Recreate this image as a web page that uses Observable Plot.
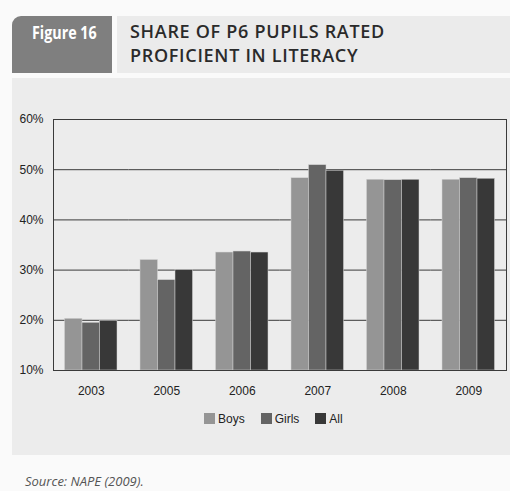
<!DOCTYPE html>
<html>
<head>
<meta charset="utf-8">
<script src="https://cdn.jsdelivr.net/npm/d3@7"></script>
<script src="https://cdn.jsdelivr.net/npm/@observablehq/plot@0.6"></script>
<style>
  html, body { margin: 0; padding: 0; }
  body { width: 510px; height: 491px; position: relative; overflow: hidden; background: #fafafa; font-family: "Liberation Sans", Arial, sans-serif; }
  #tab { position: absolute; left: 12px; top: 16px; width: 100px; height: 57px; background: #7f7f7f; border-top-left-radius: 9px; }
  #tabtext { position: absolute; left: 32px; top: 22px; color: #fff; font-family: "Open Sans", sans-serif; font-weight: bold; font-size: 17px; line-height: 22px; white-space: nowrap; transform: scaleX(0.84); transform-origin: 0 0; }
  #titlebox { position: absolute; left: 117px; top: 16px; width: 393px; height: 57px; background: #ebebeb; }
  #title { position: absolute; left: 130px; top: 19px; color: #2a2a2a; font-family: "Open Sans", sans-serif; font-weight: 600; font-size: 18px; letter-spacing: 0.7px; line-height: 24px; white-space: nowrap; }
  #panel { position: absolute; left: 12px; top: 78px; width: 498px; height: 377px; background: #ececec; }
  #chart { position: absolute; left: 12px; top: 78px; }
  #legend { position: absolute; left: 204px; top: 402px; }
  #source { position: absolute; left: 25px; top: 473px; color: #555; font-family: "Open Sans", sans-serif; font-style: italic; font-size: 13px; line-height: 16px; white-space: nowrap; }
  .lg-swatch { margin-right: 16px !important; }
  .lg-swatch > svg { margin-right: 3px !important; }
</style>
</head>
<body>
<div id="tab"></div>
<div id="tabtext">Figure 16</div>
<div id="titlebox"></div>
<div id="title">SHARE OF P6 PUPILS RATED<br>PROFICIENT IN LITERACY</div>
<div id="panel"></div>
<div id="chart"></div>
<div id="legend"></div>
<div id="source">Source: NAPE (2009).</div>
<script>
const years = ["2003", "2005", "2006", "2007", "2008", "2009"];
const series = ["Boys", "Girls", "All"];
const boys  = [20.3, 32.0, 33.5, 48.3, 48.0, 48.0];
const girls = [19.5, 28.0, 33.7, 50.9, 47.9, 48.3];
const all   = [19.9, 30.0, 33.5, 49.8, 48.0, 48.2];
const colors = ["#959595", "#646464", "#383838"];
const yTicks = [10, 20, 30, 40, 50, 60];

const values = {Boys: boys, Girls: girls, All: all};
const data = years.flatMap((year, i) => series.map(s => ({year, series: s, value: values[s][i]})));

const chart = Plot.plot({
  width: 498,
  height: 330,
  marginLeft: 41,
  marginRight: 4,
  marginTop: 41,
  marginBottom: 38,
  style: {background: "transparent", fontFamily: "Liberation Sans, Arial, sans-serif", fontSize: "12px", color: "#222"},
  fx: {domain: years, padding: 0, label: null, round: false},
  x: {domain: series, paddingInner: 0, paddingOuter: 0.657, axis: null, round: false},
  y: {domain: [10, 60], label: null},
  color: {domain: series, range: colors},
  marks: [
    Plot.gridY(yTicks, {stroke: "#3a3a3a", strokeOpacity: 1}),
    Plot.barY(data, {fx: "year", x: "series", y1: 10, y2: "value", fill: "series", stroke: "#d4d4d4", strokeWidth: 0.5}),
    Plot.axisY(yTicks, {tickFormat: d => d + "%", tickSize: 0, tickPadding: 10, label: null}),
    Plot.axisFx({anchor: "bottom", tickSize: 0, tickPadding: 16, label: null}),
    Plot.frame({stroke: "#3a3a3a", facet: "super"})
  ]
});
document.getElementById("chart").appendChild(chart);

const legend = Plot.legend({
  color: {domain: series, range: colors},
  legend: "swatches",
  swatchSize: 11,
  className: "lg",
  style: {fontSize: "12px", fontFamily: "Liberation Sans, Arial, sans-serif", color: "#222", background: "transparent"}
});
document.getElementById("legend").appendChild(legend);
</script>
</body>
</html>
